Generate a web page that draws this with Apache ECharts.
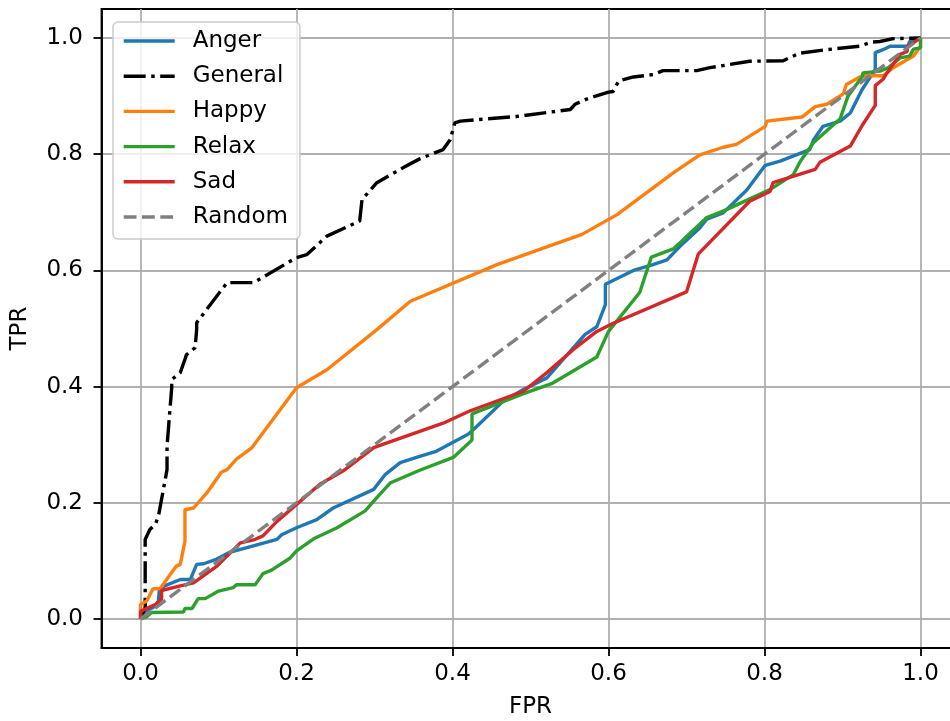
<!DOCTYPE html>
<html>
<head>
<meta charset="utf-8">
<script src="https://cdn.jsdelivr.net/npm/echarts@6/dist/echarts.min.js"></script>
<style>
  html, body { margin: 0; padding: 0; background: #fff; }
  #chart { width: 950px; height: 721px; }
</style>
</head>
<body>
<div id="chart"></div>
<script>
// ROC curves: false positive rate (x) vs true positive rate (y) per class
const seriesNames = ['Anger', 'General', 'Happy', 'Relax', 'Sad', 'Random'];
const tickValues = [0, 0.2, 0.4, 0.6, 0.8, 1.0];

const angerFpr = [0, 0.004, 0.019, 0.023, 0.024, 0.031, 0.051, 0.064, 0.072, 0.081, 0.096, 0.113, 0.175, 0.181, 0.200, 0.226, 0.247, 0.299, 0.314, 0.333, 0.358, 0.378, 0.420, 0.427, 0.465, 0.491, 0.521, 0.570, 0.585, 0.596, 0.596, 0.632, 0.657, 0.675, 0.692, 0.717, 0.726, 0.747, 0.777, 0.801, 0.820, 0.858, 0.863, 0.875, 0.897, 0.910, 0.925, 0.942, 0.942, 0.952, 0.961, 0.984, 0.986, 1.0];
const angerTpr = [0, 0.011, 0.022, 0.031, 0.048, 0.057, 0.068, 0.068, 0.094, 0.095, 0.102, 0.114, 0.137, 0.145, 0.157, 0.171, 0.191, 0.223, 0.249, 0.269, 0.280, 0.288, 0.318, 0.326, 0.375, 0.395, 0.415, 0.490, 0.503, 0.541, 0.576, 0.600, 0.610, 0.618, 0.642, 0.673, 0.688, 0.699, 0.738, 0.781, 0.788, 0.808, 0.825, 0.848, 0.857, 0.871, 0.911, 0.946, 0.975, 0.980, 0.986, 0.986, 0.994, 1.0];

const generalFpr = [0, 0.006, 0.006, 0.012, 0.019, 0.023, 0.027, 0.034, 0.034, 0.040, 0.040, 0.051, 0.057, 0.059, 0.070, 0.072, 0.072, 0.111, 0.145, 0.200, 0.213, 0.239, 0.281, 0.284, 0.303, 0.337, 0.358, 0.388, 0.397, 0.403, 0.410, 0.482, 0.551, 0.557, 0.572, 0.600, 0.606, 0.613, 0.632, 0.657, 0.670, 0.713, 0.730, 0.781, 0.824, 0.845, 0.880, 0.922, 0.937, 0.948, 0.965, 1.0];
const generalTpr = [0, 0.020, 0.137, 0.154, 0.163, 0.177, 0.206, 0.257, 0.297, 0.398, 0.412, 0.424, 0.447, 0.455, 0.467, 0.498, 0.510, 0.579, 0.579, 0.622, 0.627, 0.659, 0.685, 0.722, 0.751, 0.777, 0.792, 0.808, 0.825, 0.854, 0.857, 0.865, 0.877, 0.886, 0.895, 0.907, 0.908, 0.926, 0.933, 0.937, 0.944, 0.944, 0.949, 0.960, 0.961, 0.974, 0.980, 0.986, 0.993, 0.994, 0.999, 1.0];

const happyFpr = [0, 0, 0.008, 0.016, 0.025, 0.046, 0.051, 0.057, 0.057, 0.068, 0.085, 0.104, 0.111, 0.123, 0.143, 0.200, 0.239, 0.303, 0.346, 0.457, 0.566, 0.611, 0.683, 0.717, 0.747, 0.764, 0.801, 0.803, 0.848, 0.865, 0.880, 0.901, 0.905, 0.925, 0.952, 0.965, 0.991, 1.0, 1.0];
const happyTpr = [0, 0.025, 0.031, 0.052, 0.052, 0.091, 0.094, 0.134, 0.188, 0.191, 0.217, 0.253, 0.257, 0.275, 0.295, 0.398, 0.429, 0.498, 0.547, 0.610, 0.662, 0.696, 0.768, 0.799, 0.812, 0.817, 0.848, 0.857, 0.864, 0.882, 0.886, 0.904, 0.920, 0.935, 0.935, 0.949, 0.969, 0.986, 1.0];

const relaxFpr = [0, 0.008, 0.014, 0.016, 0.055, 0.057, 0.066, 0.074, 0.083, 0.100, 0.119, 0.123, 0.147, 0.157, 0.168, 0.192, 0.200, 0.222, 0.252, 0.288, 0.303, 0.320, 0.358, 0.401, 0.425, 0.425, 0.491, 0.527, 0.585, 0.600, 0.640, 0.655, 0.683, 0.692, 0.726, 0.747, 0.807, 0.837, 0.846, 0.863, 0.897, 0.907, 0.926, 0.926, 0.948, 0.959, 0.974, 0.986, 0.991, 1.0, 1.0];
const relaxTpr = [0, 0.004, 0.011, 0.012, 0.012, 0.018, 0.018, 0.035, 0.035, 0.048, 0.054, 0.059, 0.059, 0.078, 0.084, 0.105, 0.117, 0.138, 0.157, 0.186, 0.209, 0.234, 0.256, 0.278, 0.308, 0.353, 0.388, 0.405, 0.451, 0.495, 0.562, 0.623, 0.637, 0.648, 0.691, 0.702, 0.739, 0.765, 0.788, 0.820, 0.861, 0.900, 0.935, 0.940, 0.943, 0.949, 0.966, 0.969, 0.981, 0.983, 1.0];

const sadFpr = [0, 0, 0.019, 0.027, 0.027, 0.051, 0.068, 0.098, 0.128, 0.145, 0.157, 0.175, 0.230, 0.260, 0.299, 0.316, 0.358, 0.388, 0.422, 0.491, 0.521, 0.555, 0.585, 0.606, 0.700, 0.715, 0.781, 0.807, 0.811, 0.865, 0.871, 0.910, 0.925, 0.942, 0.942, 0.952, 0.957, 0.974, 0.983, 0.983, 0.991, 1.0];
const sadTpr = [0, 0.013, 0.025, 0.034, 0.049, 0.057, 0.062, 0.091, 0.131, 0.136, 0.143, 0.168, 0.232, 0.255, 0.295, 0.303, 0.323, 0.337, 0.358, 0.392, 0.424, 0.464, 0.495, 0.509, 0.563, 0.628, 0.719, 0.736, 0.751, 0.774, 0.786, 0.814, 0.849, 0.884, 0.918, 0.929, 0.940, 0.972, 0.977, 0.986, 0.992, 1.0];

const randomFpr = [0, 1];
const randomTpr = [0, 1];

const FONT = '"DejaVu Sans", sans-serif';
const FS = 23;
const LW = 3.4;

function pairs(xs, ys) {
  return xs.map((x, i) => [x, ys[i]]);
}

function lineSeries(name, xs, ys, color, type) {
  return {
    name: name,
    type: 'line',
    data: pairs(xs, ys),
    symbol: 'none',
    smooth: false,
    lineStyle: { color: color, width: LW, type: type || 'solid', cap: 'butt' },
    itemStyle: { color: color },
    emphasis: { disabled: true }
  };
}

const tickLabel = v => Number(v).toFixed(1);

const chart = echarts.init(document.getElementById('chart'), null, { renderer: 'canvas' });
chart.setOption({
  animation: false,
  backgroundColor: '#ffffff',
  textStyle: { fontFamily: FONT },
  grid: {
    left: 101.5, top: 9, right: -9.5, bottom: 73,
    show: true, borderColor: '#000', borderWidth: 1.8,
    containLabel: false, outerBoundsMode: 'none'
  },
  xAxis: {
    type: 'value', min: -0.05, max: 1.05,
    name: 'FPR', nameLocation: 'middle', nameGap: 48,
    nameTextStyle: { fontFamily: FONT, fontSize: FS, color: '#000' },
    axisLine: { show: true, onZero: false, lineStyle: { color: '#000', width: 1.8 } },
    axisTick: { show: true, length: 8, inside: false, customValues: tickValues, lineStyle: { color: '#000', width: 1.8 } },
    axisLabel: { customValues: tickValues, formatter: tickLabel, margin: 15, fontFamily: FONT, fontSize: FS, color: '#000' },
    splitLine: { show: true, lineStyle: { color: '#b0b0b0', width: 1.8 } }
  },
  yAxis: {
    type: 'value', min: -0.05, max: 1.05,
    name: 'TPR', nameLocation: 'middle', nameGap: 70, nameRotate: 90,
    nameTextStyle: { fontFamily: FONT, fontSize: FS, color: '#000' },
    axisLine: { show: true, onZero: false, lineStyle: { color: '#000', width: 1.8 } },
    axisTick: { show: true, length: 8, inside: false, customValues: tickValues, lineStyle: { color: '#000', width: 1.8 } },
    axisLabel: { customValues: tickValues, formatter: tickLabel, margin: 18.5, fontFamily: FONT, fontSize: FS, color: '#000' },
    splitLine: { show: true, lineStyle: { color: '#b0b0b0', width: 1.8 } }
  },
  legend: {
    data: seriesNames,
    orient: 'vertical',
    left: 113, top: 22,
    padding: [7.5, 12, 10.5, 9],
    itemWidth: 51, itemHeight: 14, itemGap: 12.2,
    backgroundColor: 'rgba(255,255,255,0.8)',
    borderColor: '#cccccc', borderWidth: 1.5, borderRadius: 5,
    lineStyle: { width: LW },
    itemStyle: { opacity: 0 },
    selectedMode: false,
    textStyle: { fontFamily: FONT, fontSize: FS, lineHeight: 23, color: '#000', padding: [0, 0, 0, 13] }
  },
  series: [
    lineSeries('Anger', angerFpr, angerTpr, '#1f77b4'),
    lineSeries('General', generalFpr, generalTpr, '#000000', [22, 5.5, 3.5, 5.5]),
    lineSeries('Happy', happyFpr, happyTpr, '#ff7f0e'),
    lineSeries('Relax', relaxFpr, relaxTpr, '#2ca02c'),
    lineSeries('Sad', sadFpr, sadTpr, '#d62728'),
    lineSeries('Random', randomFpr, randomTpr, '#808080', [12.8, 5.5])
  ]
});
</script>
</body>
</html>
